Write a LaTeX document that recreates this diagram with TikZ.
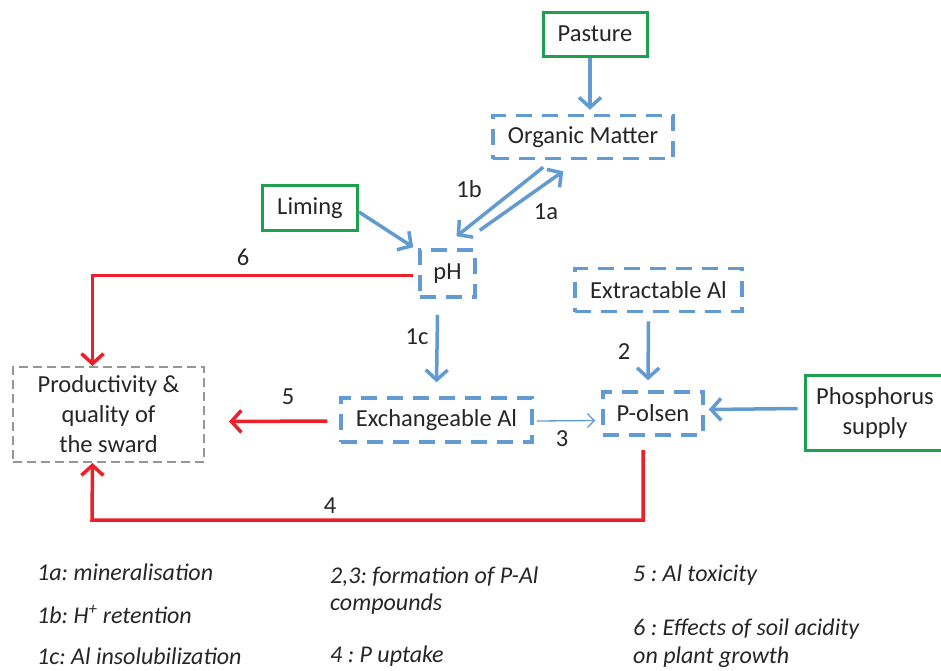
\documentclass[tikz,border=0pt]{standalone}
\usepackage{fontspec}
\setmainfont{Carlito}
\usetikzlibrary{arrows.meta,calc}
\definecolor{cblue}{RGB}{98,154,210}
\definecolor{cgreen}{RGB}{30,160,80}
\definecolor{cred}{RGB}{236,32,40}
\definecolor{cgray}{RGB}{150,150,150}
\frenchspacing
\begin{document}
\frenchspacing
\begin{tikzpicture}[x=1pt,y=-1pt,
  txt/.style={font=\fontsize{24.5}{30}\selectfont, text=black!85},
  bbox/.style={txt, draw=cblue, line width=3.5pt, dash pattern=on 16pt off 10pt, inner sep=0pt, align=center},
  gbox/.style={txt, draw=cgreen, line width=3pt, inner sep=0pt, align=center},
  pbox/.style={txt, draw=cgray, line width=2pt, dash pattern=on 9pt off 5pt, inner sep=0pt, align=center},
  barrow/.style={draw=cblue, line width=3.5pt, -{Straight Barb[length=10pt,width=22pt,line width=3.5pt]}},
  tarrow/.style={draw=cblue, line width=1.3pt, -{Straight Barb[length=7pt,width=14pt,line width=1.3pt]}},
  rarrow/.style={draw=cred, line width=3.5pt, -{Straight Barb[length=10pt,width=22pt,line width=3.5pt]}},
  lab/.style={txt},
  leg/.style={font=\itshape\fontsize{24}{28}\selectfont, text=black!85, anchor=west, inner sep=0pt}]
\useasboundingbox (0,0) rectangle (941,670);
\fill[white] (0,0) rectangle (941,670);

% nodes
\node[gbox, minimum width=104pt, minimum height=44pt] (past) at (595,34) {Pasture};
\node[bbox, minimum width=180pt, minimum height=43pt] (om) at (583,137) {Organic Matter};
\node[gbox, minimum width=95pt, minimum height=45pt] (lim) at (310,208) {Liming};
\node[bbox, minimum width=55pt, minimum height=47pt] (ph) at (447.5,273.5) {pH};
\node[bbox, minimum width=167pt, minimum height=43pt] (ext) at (658.5,290) {Extractable Al};
\node[pbox, minimum width=191pt, minimum height=95pt] (prod) at (108.5,414.5) {Productivity \&\\quality of\\the sward};
\node[bbox, minimum width=191pt, minimum height=44pt] (exch) at (436.5,420) {Exchangeable Al};
\node[bbox, minimum width=100pt, minimum height=43pt] (pol) at (653,413.5) {P-olsen};
\node[gbox, minimum width=140pt, minimum height=75pt] (phos) at (875,412.5) {Phosphorus\\supply};

% blue connectors
\draw[barrow] ($(past.south)+(-5,0)$) -- ($(om.north)+(7,-4)$);
\draw[barrow] ($(lim.east)+(0,4)$) -- ($(ph.north west)+(-5,-1)$);
\draw[barrow] ($(om.south west)+(52,7)$) -- ($(ph.north)+(9,-12)$);
\draw[barrow] ($(ph.north east)+(3,-18)$) -- ($(om.south west)+(72,11)$);
\draw[barrow] ($(ph.south)+(-10,16)$) -- ($(exch.north)+(0,-14)$);
\draw[barrow] ($(ext.south)+(-10,8)$) -- ($(pol.north)+(-5,-10)$);
\draw[barrow] ($(phos.west)+(-6,-4)$) -- ($(pol.east)+(4,-4)$);
\draw[tarrow] ($(exch.east)+(3,1)$) -- ($(pol.west)+(-6,7)$);

% red connectors
\draw[rarrow] ($(ph.west)+(-5,2)$) -| ($(prod.north)+(-16,0)$);
\draw[rarrow] ($(exch.west)+(-12,1)$) -- ($(prod.east)+(24,7)$);
\draw[rarrow] ($(pol.south)+(-10,13)$) |- (92,520) -- ($(prod.south)+(-16,0)$);

% connector labels
\node[lab] (l1b) at (469,189) {1b};
\node[lab] (l1a) at (546,212) {1a};
\node[lab] (l1c) at (417,337) {1c};
\node[lab] (l2) at (624,352) {2};
\node[lab] (l3) at (562,439) {3};
\node[lab] (l5) at (288,397) {5};
\node[lab] (l6) at (243,257) {6};
\node[lab] (l4) at (330,506) {4};

% legend
\node[leg] (g1a) at (37,572) {1a: mineralisation};
\node[leg] (g1b) at (37,614) {1b: H\textsuperscript{+} retention};
\node[leg] (g1c) at (37,656) {1c: Al insolubilization};
\node[leg] (g23) at (330,577) {2,3: formation of P-Al};
\node[leg] (g23b) at (330,604) {compounds};
\node[leg] (g4) at (330,656) {4 : P uptake};
\node[leg] (g5) at (633,575) {5 : Al toxicity};
\node[leg] (g6) at (633,629) {6 : Effects of soil acidity};
\node[leg] (g6b) at (633,657) {on plant growth};
\end{tikzpicture}
\end{document}
